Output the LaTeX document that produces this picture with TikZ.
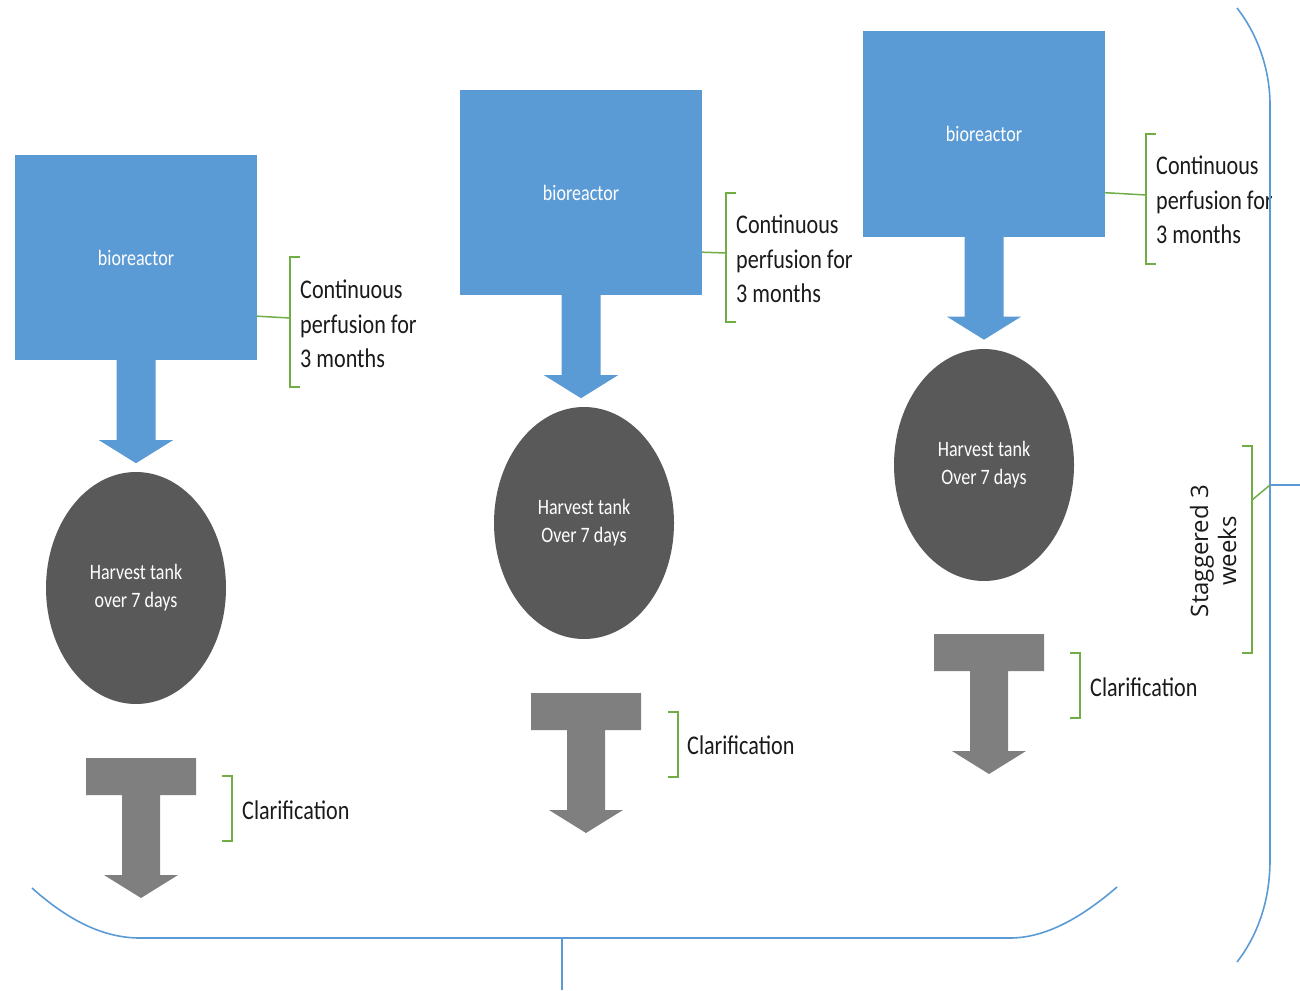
\documentclass[tikz,border=0pt]{standalone}
\usepackage{fontspec}
\setmainfont{Carlito}[FakeStretch=0.82]
\newfontfamily\stagfont{Open Sans}
\usetikzlibrary{shapes.geometric,calc}

\definecolor{reactorblue}{HTML}{5B9BD5}
\definecolor{tankgrey}{HTML}{595959}
\definecolor{clargrey}{HTML}{7F7F7F}
\definecolor{brackgreen}{HTML}{70AD47}
\definecolor{labelink}{HTML}{1A1A1A}

\tikzset{
  reactor/.style={rectangle, fill=reactorblue, minimum width=242, minimum height=205,
    inner sep=0, text=white, font=\fontsize{22}{28}\selectfont},
  tank/.style={ellipse, fill=tankgrey, minimum width=180, minimum height=232,
    inner sep=0, text=white, align=center, font=\fontsize{22}{28}\selectfont},
  note/.style={anchor=west, inner sep=0, align=left, text=labelink,
    font=\fontsize{27}{34.5}\selectfont},
  brack/.style={draw=brackgreen, line width=1.5},
  brace/.style={draw=reactorblue, line width=1.6},
  flowarrow/.pic={\fill[reactorblue] (-19.5,0) -- (19.5,0) -- (19.5,80) -- (37,80)
      -- (0,103) -- (-37,80) -- (-19.5,80) -- cycle;},
  tarrow/.pic={\fill[clargrey] (-55,0) -- (55,0) -- (55,37) -- (19,37) -- (19,117)
      -- (37,117) -- (0,140) -- (-37,117) -- (-19,117) -- (-19,37) -- (-55,37) -- cycle;}
}

\begin{document}
\begin{tikzpicture}[x=1pt,y=-1pt]
\useasboundingbox (0,0) rectangle (1300,990);

% ---- first line ----
\node[reactor] (br1) at (136,257.5) {bioreactor};
\pic at (br1.south) {flowarrow};
\node[tank] (tk1) at (136,588) {Harvest tank\\over 7 days};
\coordinate (t1) at (141,758);
\pic at (t1) {tarrow};
\draw[brack] (300,257) -- (290,257) -- (290,387) -- (300,387);
\coordinate (b1) at (290,318);
\draw[brack] ($(br1.south east)+(0,-44)$) -- (b1);
\node[note] (p1) at (300,324) {Continuous\\perfusion for\\3 months};
\draw[brack] (222,776) -- (232,776) -- (232,841) -- (222,841);
\node[note] (c1) at (242,810) {Clarification};

% ---- second line ----
\node[reactor] (br2) at (581,192.5) {bioreactor};
\pic at (br2.south) {flowarrow};
\node[tank] (tk2) at (584,523) {Harvest tank\\Over 7 days};
\coordinate (t2) at (586,693);
\pic at (t2) {tarrow};
\draw[brack] (736,193) -- (726,193) -- (726,322) -- (736,322);
\coordinate (b2) at (726,253);
\draw[brack] ($(br2.south east)+(0,-43)$) -- (b2);
\node[note] (p2) at (736,259) {Continuous\\perfusion for\\3 months};
\draw[brack] (668,712) -- (678,712) -- (678,777) -- (668,777);
\node[note] (c2) at (687,745) {Clarification};

% ---- third line ----
\node[reactor] (br3) at (984,134) {bioreactor};
\pic at (br3.south) {flowarrow};
\node[tank] (tk3) at (984,465) {Harvest tank\\Over 7 days};
\coordinate (t3) at (989,634);
\pic at (t3) {tarrow};
\draw[brack] (1156,134) -- (1146,134) -- (1146,264) -- (1156,264);
\coordinate (b3) at (1146,195);
\draw[brack] ($(br3.south east)+(0,-44)$) -- (b3);
\node[note] (p3) at (1156,200) {Continuous\\perfusion for\\3 months};
\draw[brack] (1070,653) -- (1080,653) -- (1080,718) -- (1070,718);
\node[note] (c3) at (1090,687) {Clarification};

% ---- bottom brace grouping the three lines ----
\coordinate (bm) at (562,938);
\coordinate (bt) at (562,990);
\draw[brace] (32,888) .. controls (70,922) and (105,938) .. (140,938) -- (bm)
  -- (1010,938) .. controls (1050,938) and (1088,912) .. (1117,887);
\draw[brace] (bm) -- (bt);

% ---- right brace: staggering ----
\coordinate (rm) at (1270,485);
\coordinate (rt) at (1300,485);
\draw[brace] (1237,8) .. controls (1258,35) and (1270,70) .. (1270,105) -- (rm)
  -- (1270,860) .. controls (1270,900) and (1258,935) .. (1237,962);
\draw[brace] (rm) -- (rt);
\draw[brack] (1242,446) -- (1252,446) -- (1252,653) -- (1242,653);
\coordinate (sb) at (1252,500);
\draw[brack] (sb) -- (rm);
\node[rotate=90, inner sep=0, align=center, text=labelink,
  font=\stagfont\fontsize{24}{28}\selectfont] (stag) at (1213,551) {Staggered 3\\weeks};
\end{tikzpicture}
\end{document}
